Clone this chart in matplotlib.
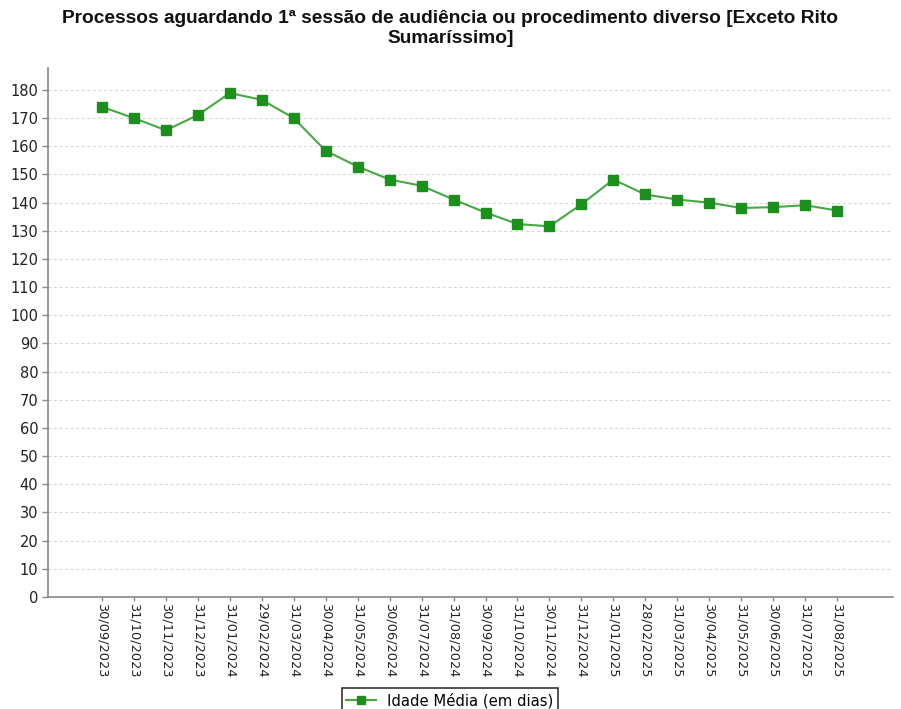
import matplotlib
matplotlib.use("Agg")
import matplotlib.pyplot as plt
from matplotlib.ticker import MultipleLocator

dates = ["30/09/2023", "31/10/2023", "30/11/2023", "31/12/2023", "31/01/2024",
         "29/02/2024", "31/03/2024", "30/04/2024", "31/05/2024", "30/06/2024",
         "31/07/2024", "31/08/2024", "30/09/2024", "31/10/2024", "30/11/2024",
         "31/12/2024", "31/01/2025", "28/02/2025", "31/03/2025", "30/04/2025",
         "31/05/2025", "30/06/2025", "31/07/2025", "31/08/2025"]
idade_media = [174, 170, 165.7, 171.1, 178.9, 176.5, 170, 158.4, 152.8, 148.2,
               146, 141.1, 136.5, 132.4, 131.6, 139.4, 148.2, 142.9, 141.1, 140,
               138.1, 138.4, 139.1, 137.2]
series_label = "Idade Média (em dias)"
title = "Processos aguardando 1ª sessão de audiência ou procedimento diverso [Exceto Rito\nSumaríssimo]"

W, H = 901, 709
fig = plt.figure(figsize=(W / 100, H / 100), dpi=100)
ax = fig.add_axes([48 / W, 1 - 597 / H, (893 - 48) / W, (597 - 68) / H])

x = list(range(len(dates)))
ax.plot(x, idade_media, color="#45a845", lw=1.5, marker="s", ms=7.5,
        mfc="#1e8f1e", mec="#1e8f1e", label=series_label, zorder=3)

ax.set_xlim(-1.69, 24.75)
ax.set_ylim(0, 187.8)
ax.yaxis.set_major_locator(MultipleLocator(10))
ax.set_xticks(x)
ax.set_xticklabels(dates, rotation=270, family="DejaVu Sans", fontsize=9.3, color="#222222")
for lab in ax.get_yticklabels():
    lab.set_family("DejaVu Sans")
ax.tick_params(axis="y", labelsize=10.5, colors="#888888", labelcolor="#222222", length=4, width=1, pad=3)
ax.tick_params(axis="x", colors="#888888", labelcolor="#222222", length=3, width=1, pad=1)

ax.grid(axis="y", color="#d4d4d4", ls=(0, (2.5, 2.5)), lw=0.8)
ax.set_axisbelow(True)
for s in ["top", "right"]:
    ax.spines[s].set_visible(False)
for s in ["left", "bottom"]:
    ax.spines[s].set_color("#888888")
    ax.spines[s].set_linewidth(1.2)

fig.text(0.5, 1 - 10 / H, title, ha="center", va="top", family="Liberation Sans",
         fontweight="bold", fontsize=13.8, color="#111111", linespacing=1.25)

leg = fig.legend(loc="upper center", bbox_to_anchor=(450 / W, 1 - 681 / H), frameon=True,
                 fancybox=False, edgecolor="#000000", prop={"family": "DejaVu Sans", "size": 10.6},
                 handlelength=2.0, borderpad=0.3, markerscale=0.8)
leg.get_frame().set_linewidth(1.2)

fig.savefig("out.png", dpi=100)
